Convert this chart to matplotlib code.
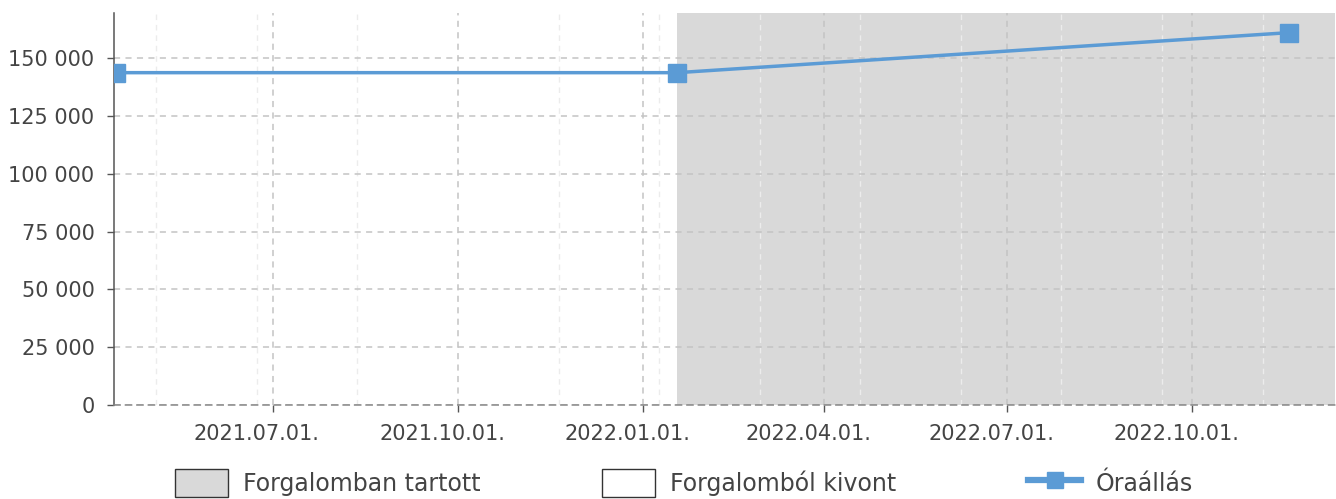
import datetime as dt
import matplotlib
matplotlib.use("Agg")
import matplotlib.pyplot as plt
import matplotlib.dates as mdates
import matplotlib.transforms as mtransforms
from matplotlib.patches import Patch
from matplotlib.lines import Line2D
from matplotlib.ticker import FuncFormatter, FixedLocator

# meter readings
reading_dates = [dt.date(2021, 4, 14), dt.date(2022, 1, 18), dt.date(2022, 11, 18)]
reading_values = [143700, 143700, 161000]

# status periods (in circulation shaded)
period_starts = [dt.date(2021, 4, 13), dt.date(2022, 1, 18)]
period_ends = [dt.date(2022, 1, 18), dt.date(2022, 12, 11)]
period_status = ["kivont", "tartott"]

legend_labels = ["Forgalomban tartott", "Forgalomból kivont", "Óraállás"]
y_ticks = [0, 25000, 50000, 75000, 100000, 125000, 150000]

TXT = "#444444"
LINE = "#5b9bd5"
SHADE = "#d9d9d9"

plt.rcParams["font.family"] = "DejaVu Sans"

fig = plt.figure(figsize=(13.36, 4.99), dpi=100)
ax = fig.add_axes([114 / 1336, 1 - 405 / 499, (1335 - 114) / 1336, (405 - 13) / 499])

for s, e, st in zip(period_starts, period_ends, period_status):
    if st == "tartott":
        ax.axvspan(s, e, color=SHADE, lw=0, zorder=0)

ax.plot(reading_dates, reading_values, color=LINE, lw=2.5, marker="s",
        markersize=13, markeredgecolor=LINE, zorder=5, clip_on=True)

ax.set_xlim(period_starts[0], period_ends[-1])
ax.set_ylim(0, 169500)

ax.xaxis.set_major_locator(mdates.MonthLocator(bymonth=[1, 4, 7, 10]))
ax.xaxis.set_major_formatter(mdates.DateFormatter("%Y.%m.%d."))
minor = mdates.drange(dt.datetime(2021, 5, 4), dt.datetime(2022, 12, 31), dt.timedelta(days=50))
ax.xaxis.set_minor_locator(FixedLocator(minor))
ax.set_yticks(y_ticks)
ax.yaxis.set_major_formatter(FuncFormatter(lambda v, p: f"{int(v):,}".replace(",", " ")))

ax.grid(True, which="major", color="#c4c4c4", lw=1.1, ls=(0, (4, 3.5)), zorder=1)
ax.grid(True, which="minor", axis="x", color="#ececec", lw=1.0, ls=(0, (4, 3.5)), zorder=1)
ax.set_axisbelow(True)

for sp in ["top", "right"]:
    ax.spines[sp].set_visible(False)
ax.spines["left"].set_color("#555555")
ax.spines["left"].set_linewidth(1.1)
ax.spines["bottom"].set_color("#888888")
ax.spines["bottom"].set_linestyle((0, (4, 3.5)))
ax.spines["bottom"].set_linewidth(1.1)

ax.tick_params(axis="both", which="major", labelsize=15, colors="#555555",
               labelcolor=TXT, length=5, width=1)
ax.tick_params(axis="x", which="major", pad=9)
ax.tick_params(axis="y", which="major", pad=9)
ax.tick_params(axis="x", which="minor", length=0)

# x labels sit a bit left of their ticks
shift = mtransforms.ScaledTranslation(-16 / 100, 0, fig.dpi_scale_trans)
for lbl in ax.get_xticklabels():
    lbl.set_transform(lbl.get_transform() + shift)

handles = [
    Patch(facecolor=SHADE, edgecolor="#333333", lw=1),
    Patch(facecolor="white", edgecolor="#333333", lw=1),
    Line2D([], [], color=LINE, lw=4.5, marker="s", markersize=12, markeredgecolor=LINE),
]
xs = [175, 602, 1028]
for h, lab, x in zip(handles, legend_labels, xs):
    fig.legend([h], [lab], loc="center left", bbox_to_anchor=(x / 1336, 1 - 483 / 499),
               frameon=False, fontsize=17, labelcolor=TXT, borderpad=0,
               borderaxespad=0, handlelength=2.25, handleheight=1.45, handletextpad=0.62)

fig.savefig("out.png", dpi=100)
